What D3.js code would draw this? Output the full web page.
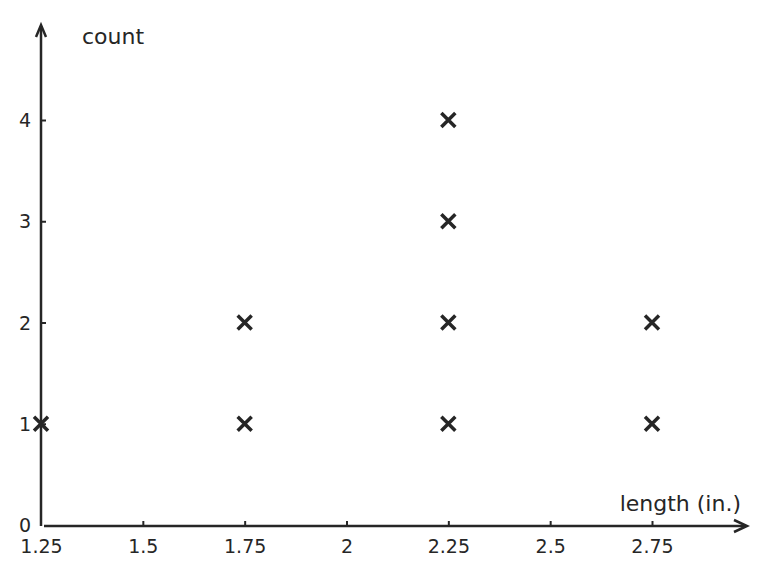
<!DOCTYPE html>
<html><head><meta charset="utf-8">
<script src="https://cdn.jsdelivr.net/npm/d3@7"></script>
<style>body{margin:0;background:#fff}svg{display:block}</style>
</head><body>
<svg id="c" width="771" height="575"></svg>
<script>
const xTicks = [1.25, 1.5, 1.75, 2, 2.25, 2.5, 2.75];
const xTickLabels = ["1.25", "1.5", "1.75", "2", "2.25", "2.5", "2.75"];
const yTicks = [0, 1, 2, 3, 4];
const lengths = [1.25, 1.75, 2.25, 2.75];
const counts = [1, 2, 4, 2];
const xLabel = "length (in.)";
const yLabel = "count";

const svg = d3.select("#c");
const ink = "#262626";
const font = "DejaVu Sans, sans-serif";
const x = d3.scaleLinear().domain([1.25, 2.75]).range([41, 652]);
const y = d3.scaleLinear().domain([0, 4]).range([525, 120]);
const x0 = 41, y0 = 526;

// axes lines
svg.append("path").attr("d", `M${x0},${y0} V26`).attr("stroke", ink).attr("stroke-width", 2.5).attr("fill", "none");
svg.append("path").attr("d", `M${x0+3},${y0} H746`).attr("stroke", ink).attr("stroke-width", 2.5).attr("fill", "none");
// arrowheads
svg.append("path").attr("d", `M${x0-5},37 L${x0},25 L${x0+5},37`).attr("stroke", ink).attr("stroke-width", 2.5).attr("fill", "none").attr("stroke-linejoin","miter");
svg.append("path").attr("d", `M734,${y0-6} L747,${y0} L734,${y0+6}`).attr("stroke", ink).attr("stroke-width", 2.5).attr("fill", "none");

// x ticks
const xAxis = d3.axisBottom(x).tickValues(xTicks).tickSize(0).tickFormat((d,i)=>xTickLabels[i]);
const gx = svg.append("g").attr("transform", `translate(0,${y0})`).call(xAxis);
gx.select(".domain").remove();
gx.selectAll("text").attr("y", 27).attr("dy", 0).attr("font-size", 19).attr("font-family", font).attr("fill", ink);
gx.selectAll(".tick").filter(d => d !== 1.25).append("line").attr("y1", 0).attr("y2", -5).attr("stroke", ink).attr("stroke-width", 2);

// y ticks
const yAxis = d3.axisLeft(y).tickValues(yTicks).tickSize(0).tickFormat(d3.format("d"));
const gy = svg.append("g").attr("transform", `translate(${x0},0)`).call(yAxis);
gy.select(".domain").remove();
gy.selectAll("text").attr("x", -10).attr("dy", "0.35em").attr("font-size", 19).attr("font-family", font).attr("fill", ink);
gy.selectAll(".tick").filter(d => d !== 0).append("line").attr("x1", 0).attr("x2", 5).attr("stroke", ink).attr("stroke-width", 2);

// axis labels
svg.append("text").attr("x", 82).attr("y", 44).text(yLabel).attr("font-size", 22).attr("font-family", font).attr("fill", ink);
svg.append("text").attr("x", 741).attr("y", 511).attr("text-anchor", "end").text(xLabel).attr("font-size", 22).attr("font-family", font).attr("fill", ink);

// points
const pts = [];
lengths.forEach((l, i) => { for (let k = 1; k <= counts[i]; k++) pts.push({l, k}); });
const s = 7;
svg.append("g").selectAll("path").data(pts).join("path")
  .attr("d", d => { const cx = x(d.l), cy = y(d.k); return `M${cx-s},${cy-s}L${cx+s},${cy+s}M${cx-s},${cy+s}L${cx+s},${cy-s}`; })
  .attr("stroke", ink).attr("stroke-width", 3.5).attr("fill", "none");
</script>
</body></html>
